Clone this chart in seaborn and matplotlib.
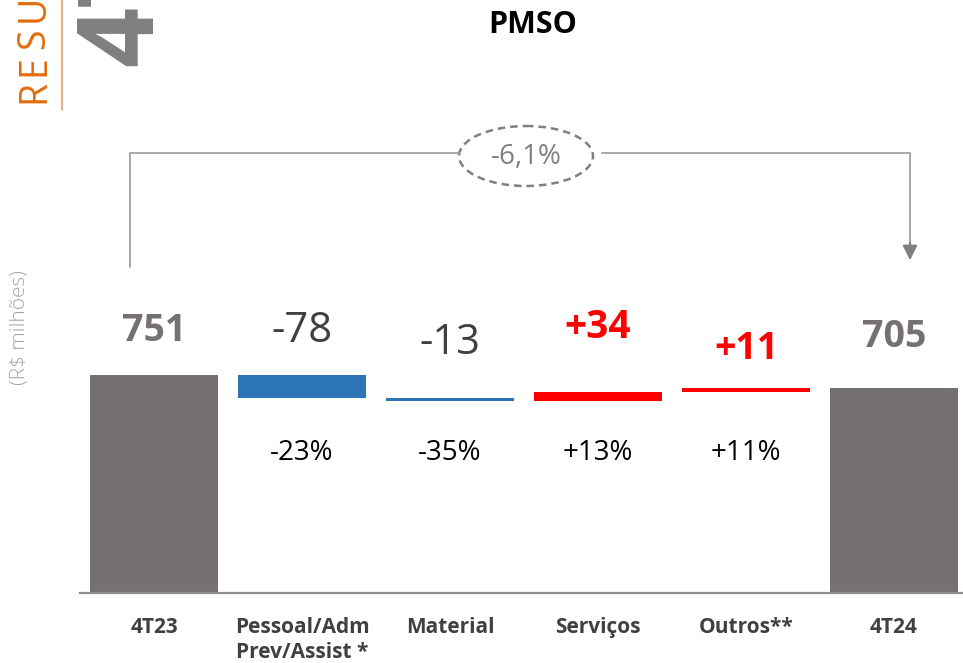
import numpy as np
import pandas as pd
import matplotlib
matplotlib.use('Agg')
import matplotlib.pyplot as plt
from matplotlib.patches import Ellipse
import seaborn as sns

# data (R$ milhoes)
cats = ['4T23', 'Pessoal/Adm\nPrev/Assist *', 'Material', 'Serviços', 'Outros**', '4T24']
values = [751, -78, -13, 34, 11, 705]
is_total = [True, False, False, False, False, True]
pct_labels = ['', '-23%', '-35%', '+13%', '+11%', '']

# colours / label styling
GRAY = '#767171'
BLUE = '#2e75b6'
RED = '#ff0000'
label_offsets = [32, 32, 39, 46, 28, 37]      # points above bar top
label_sizes = [27, 30, 30, 28, 27, 27]

# build waterfall bottoms/heights
bottoms, heights, colors, tops = [], [], [], []
running = 0
for v, tot in zip(values, is_total):
    if tot:
        bottoms.append(0); heights.append(v); colors.append(GRAY)
        running = v
        tops.append(v)
    else:
        start, end = running, running + v
        bottoms.append(min(start, end)); heights.append(abs(v))
        colors.append(BLUE if v < 0 else RED)
        tops.append(max(start, end))
        running = end

df = pd.DataFrame({'cat': cats, 'height': heights})

sns.set_style('white')
plt.rcParams['font.family'] = ['Open Sans', 'DejaVu Sans']

fig = plt.figure(figsize=(9.63, 6.63), dpi=100)
ax = fig.add_axes([80 / 963, 70 / 663, 888 / 963, 493 / 663])

sns.barplot(data=df, x='cat', y='height', order=cats, bottom=np.array(bottoms),
            width=0.86, color=GRAY, linewidth=0, ax=ax, errorbar=None)
for p, c in zip(ax.patches, colors):
    p.set_facecolor(c)

ax.set_xlim(-0.5, 5.5)
ax.set_ylim(0, 1698)
ax.set_xlabel('')
ax.set_ylabel('')
ax.set_yticks([])
sns.despine(ax=ax, left=True)
ax.spines['bottom'].set_color('#8c8c8c')
ax.spines['bottom'].set_linewidth(1.6)

# ticks between categories, labels at centers
ax.set_xticks(range(len(cats)))
ax.set_xticklabels(cats, fontsize=15, fontweight='bold', color='#404040',
                   linespacing=1.25, multialignment='center')
ax.set_xticks(np.arange(-0.5, len(cats)), minor=True)
ax.tick_params(axis='x', which='major', length=0, pad=17)
ax.tick_params(axis='x', which='minor', length=6, width=1.6, color='#8c8c8c', direction='out')

# value labels
for i, v in enumerate(values):
    if is_total[i]:
        txt, col, fw = str(v), GRAY, 'bold'
    elif v < 0:
        txt, col, fw = f'{v}', '#404040', 'normal'
    else:
        txt, col, fw = f'+{v}', RED, 'bold'
    ax.annotate(txt, xy=(i, tops[i]), xytext=(0, label_offsets[i]), textcoords='offset points',
                ha='center', va='center', fontsize=label_sizes[i], fontweight=fw, color=col)
    if pct_labels[i]:
        ax.text(i, 0.284, pct_labels[i], transform=ax.get_xaxis_transform(),
                ha='center', va='center', fontsize=20, color='black')

# title
fig.text(533 / 963, 1 - 25 / 663, 'PMSO', ha='center', va='center',
         fontsize=22, fontweight='bold', color='black')

# overlay in pixel coordinates for bracket and decorations
ov = fig.add_axes([0, 0, 1, 1], zorder=5)
ov.set_xlim(0, 963)
ov.set_ylim(663, 0)
ov.axis('off')
ov.patch.set_alpha(0)

line_col = '#a0a0a0'
ov.plot([130, 130, 459], [267, 153, 153], color=line_col, lw=1.3)
ov.plot([602, 910, 910], [153, 153, 248], color=line_col, lw=1.3)
ov.annotate('', xy=(910, 263), xytext=(910, 240),
            arrowprops=dict(arrowstyle='-|>', color='#7f7f7f', lw=1.5, mutation_scale=22))
ov.add_patch(Ellipse((526, 156), 134, 60, fill=False, ec='#808080', lw=1.8, ls=(0, (3, 2))))
var = (values[-1] / values[0] - 1) * 100
ov.text(526, 157, f'{var:.1f}%'.replace('.', ','), ha='center', va='center',
        fontsize=20, color='#808080')

# y unit label
ov.text(20, 328, '(R$ milhões)', rotation=90, ha='center', va='center',
        fontsize=15, color='#a6a6a6', fontweight='light')

# slide header decoration (cut by the top edge, as in the reference)
for k, ch in enumerate('RESU'):
    ov.text(44, 103 - 27 * k, ch, rotation=90, rotation_mode='anchor', ha='left', va='baseline',
            fontsize=27, color='#e46c0a')
ov.plot([62, 62], [0, 110], color='#f0a060', lw=1.2)
ov.text(152, 66, '4T', rotation=90, rotation_mode='anchor', ha='left', va='baseline',
        fontsize=76, color='#7f7f7f', fontweight='bold')

fig.savefig('out.png', dpi=100, facecolor='white')
